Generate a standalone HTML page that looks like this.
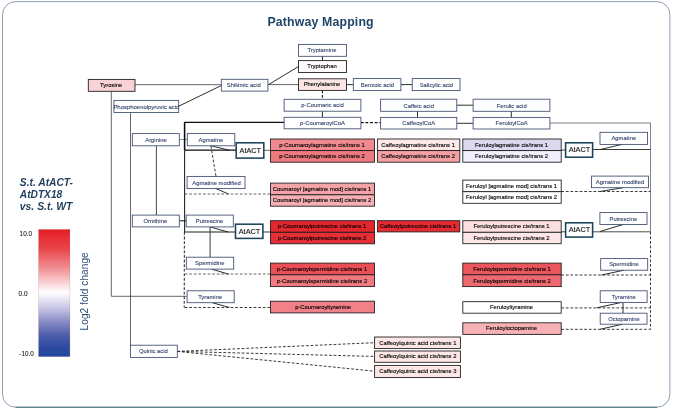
<!DOCTYPE html>
<html lang="en"><head><meta charset="utf-8"><title>Pathway Mapping</title>
<style>
html,body{margin:0;padding:0;background:#fff;}
body{width:673px;height:408px;overflow:hidden;}
svg{display:block;}
text{font-family:"Liberation Sans",sans-serif;}
</style></head><body>
<svg width="673" height="408" viewBox="0 0 673 408">
<defs>
<linearGradient id="lg" x1="0" y1="0" x2="0" y2="1">
<stop offset="0" stop-color="#e41e26"/>
<stop offset="0.15" stop-color="#e9444a"/>
<stop offset="0.3" stop-color="#f08c90"/>
<stop offset="0.42" stop-color="#f9d2d4"/>
<stop offset="0.495" stop-color="#ffffff"/>
<stop offset="0.57" stop-color="#dedcef"/>
<stop offset="0.65" stop-color="#b6b4db"/>
<stop offset="0.72" stop-color="#8c8ec7"/>
<stop offset="0.83" stop-color="#4e5eaa"/>
<stop offset="0.92" stop-color="#2f4ca1"/>
<stop offset="1" stop-color="#2446a0"/>
</linearGradient>
<filter id="bl" x="0" y="0" width="673" height="408" filterUnits="userSpaceOnUse"><feGaussianBlur stdDeviation="0.28"/></filter>
</defs>
<g filter="url(#bl)">
<rect x="0" y="0" width="673" height="408" fill="#ffffff"/>
<rect x="2.5" y="1.6" width="667.4" height="405.6" rx="13" ry="13" fill="#ffffff" stroke="#8393a6" stroke-width="0.9"/>
<line x1="15.5" y1="407.5" x2="657" y2="407.5" stroke="#5a8791" stroke-width="1.3"/>
<path d="M670.7 14 V394" stroke="#dbe7f0" stroke-width="0.9" fill="none"/>
<text x="267.4" y="26.1" font-size="12.3" font-weight="bold" fill="#1f4468" textLength="106.2" lengthAdjust="spacing">Pathway Mapping</text>
<g font-size="10.5" font-weight="bold" font-style="italic" fill="#1f3d5c">
<text x="19.8" y="186" textLength="53.2" lengthAdjust="spacingAndGlyphs">S.t. AtACT-</text>
<text x="19.8" y="198.3" textLength="42.4" lengthAdjust="spacingAndGlyphs">AtDTX18</text>
<text x="19.8" y="210.2" textLength="52.6" lengthAdjust="spacingAndGlyphs">vs. S.t. WT</text>
</g>
<rect x="38.6" y="229.5" width="31.3" height="127.1" fill="url(#lg)" stroke="#5a1020" stroke-opacity="0.25" stroke-width="0.5"/>
<g font-size="6.4" fill="#1a1a1a" stroke="#1a1a1a" stroke-width="0.1">
<text x="19.6" y="235.9">10.0</text>
<text x="18.6" y="295.8">0.0</text>
<text x="19.3" y="355.8">-10.0</text>
</g>
<text transform="translate(88.4,330.4) rotate(-90)" font-size="10" fill="#2c4e78" textLength="78" lengthAdjust="spacing">Log2 fold change</text>

<g fill="none" stroke-linecap="butt">
<line x1="135" y1="84.7" x2="221.3" y2="84.7" stroke="#4a4a4a" stroke-width="0.84"/>
<line x1="178.5" y1="106.3" x2="221.2" y2="85.6" stroke="#262626" stroke-width="0.96"/>
<line x1="267.9" y1="85" x2="298.5" y2="66.5" stroke="#262626" stroke-width="0.96"/>
<line x1="267.9" y1="84.6" x2="298.5" y2="84.6" stroke="#4a4a4a" stroke-width="0.84"/>
<line x1="322.5" y1="56.3" x2="322.5" y2="60.6" stroke="#262626" stroke-width="0.96"/>
<line x1="346.5" y1="84.6" x2="353.1" y2="84.6" stroke="#262626" stroke-width="0.96"/>
<line x1="400.9" y1="84.6" x2="412.2" y2="84.6" stroke="#262626" stroke-width="0.96"/>
<line x1="322.4" y1="90.4" x2="322.4" y2="99.3" stroke="#111" stroke-width="1.08" stroke-dasharray="2.8,1.8"/>
<line x1="322.4" y1="111.2" x2="322.4" y2="117.3" stroke="#262626" stroke-width="0.96"/>
<line x1="360.9" y1="122.6" x2="380.6" y2="122.6" stroke="#111" stroke-width="1.08" stroke-dasharray="2.8,1.8"/>
<line x1="417.5" y1="111.3" x2="417.5" y2="117.4" stroke="#262626" stroke-width="0.96"/>
<line x1="456.7" y1="105.2" x2="473.1" y2="105.2" stroke="#262626" stroke-width="0.96"/>
<line x1="456.7" y1="123.3" x2="473.1" y2="123.3" stroke="#262626" stroke-width="0.96"/>
<line x1="511.3" y1="111.3" x2="511.3" y2="117.4" stroke="#262626" stroke-width="0.96"/>
<line x1="549.9" y1="123" x2="650.5" y2="123" stroke="#6a6a6a" stroke-width="0.84"/>
<line x1="650.5" y1="123" x2="650.5" y2="231.8" stroke="#6a6a6a" stroke-width="0.84"/>
<line x1="650.5" y1="231.8" x2="650.5" y2="329.3" stroke="#262626" stroke-width="0.9" stroke-dasharray="2.8,1.8"/>
<line x1="111.3" y1="91.3" x2="111.3" y2="296.3" stroke="#4a4a4a" stroke-width="0.84"/>
<line x1="111.3" y1="296.3" x2="187.1" y2="296.3" stroke="#4a4a4a" stroke-width="0.84"/>
<line x1="130.5" y1="112.5" x2="130.5" y2="345.2" stroke="#4a4a4a" stroke-width="0.84"/>
<line x1="156.4" y1="145.8" x2="156.4" y2="215.1" stroke="#333" stroke-width="0.9"/>
<line x1="179.3" y1="139.5" x2="187.3" y2="139.5" stroke="#777" stroke-width="0.84"/>
<line x1="179.3" y1="220.8" x2="186.2" y2="220.8" stroke="#222" stroke-width="1.08"/>
<line x1="184.6" y1="122.4" x2="284.1" y2="122.4" stroke="#111" stroke-width="1.32"/>
<line x1="184.6" y1="121.9" x2="184.6" y2="150.2" stroke="#111" stroke-width="1.56"/>
<line x1="184.6" y1="150.2" x2="236.2" y2="150.2" stroke="#111" stroke-width="1.32"/>
<line x1="184.6" y1="150.2" x2="184.6" y2="232" stroke="#222" stroke-width="1.08"/>
<line x1="184.6" y1="232" x2="235.5" y2="232" stroke="#222" stroke-width="1.08"/>
<line x1="184.4" y1="232" x2="184.2" y2="307.5" stroke="#222" stroke-width="1.02" stroke-dasharray="2.8,1.8"/>
<line x1="263.8" y1="150.3" x2="270.5" y2="150.3" stroke="#4a4a4a" stroke-width="0.84"/>
<line x1="262.9" y1="232" x2="270.5" y2="232" stroke="#333" stroke-width="0.96"/>
<line x1="210.9" y1="145.8" x2="229.4" y2="150.2" stroke="#222" stroke-width="0.96"/>
<line x1="210.9" y1="146" x2="216" y2="176.4" stroke="#262626" stroke-width="0.9" stroke-dasharray="2.8,1.8"/>
<line x1="216" y1="188.6" x2="228.7" y2="194.1" stroke="#222" stroke-width="0.96"/>
<line x1="184.6" y1="194.0" x2="270.5" y2="194.0" stroke="#4a4a4a" stroke-width="0.84" stroke-dasharray="2.8,1.8"/>
<line x1="210.1" y1="226.9" x2="228" y2="232" stroke="#222" stroke-width="0.96"/>
<line x1="210.1" y1="226.9" x2="210.1" y2="257.2" stroke="#333" stroke-width="0.96"/>
<line x1="211.6" y1="269.1" x2="228.7" y2="274.2" stroke="#222" stroke-width="0.96"/>
<line x1="184.6" y1="274.0" x2="270.5" y2="274.0" stroke="#4a4a4a" stroke-width="0.84" stroke-dasharray="2.8,1.8"/>
<line x1="212.3" y1="302.7" x2="229.4" y2="307.5" stroke="#222" stroke-width="0.96"/>
<line x1="184.6" y1="307.5" x2="270.5" y2="307.5" stroke="#262626" stroke-width="0.9" stroke-dasharray="2.8,1.8"/>
<line x1="177.3" y1="351.4" x2="374.6" y2="342.7" stroke="#262626" stroke-width="0.9" stroke-dasharray="2.8,1.8"/>
<line x1="177.3" y1="351.4" x2="374.6" y2="356.4" stroke="#262626" stroke-width="0.9" stroke-dasharray="2.8,1.8"/>
<line x1="177.3" y1="351.4" x2="374.6" y2="371.2" stroke="#262626" stroke-width="0.9" stroke-dasharray="2.8,1.8"/>
<line x1="561.2" y1="150" x2="565.6" y2="150" stroke="#333" stroke-width="0.96"/>
<line x1="592.6" y1="149.5" x2="650.5" y2="149.5" stroke="#333" stroke-width="0.96"/>
<line x1="600" y1="149.6" x2="622" y2="144.4" stroke="#222" stroke-width="0.96"/>
<line x1="561.2" y1="191.5" x2="650.5" y2="191.5" stroke="#262626" stroke-width="0.9" stroke-dasharray="2.8,1.8"/>
<line x1="600" y1="191.5" x2="623" y2="187.7" stroke="#222" stroke-width="0.96"/>
<line x1="561.2" y1="231.8" x2="565.6" y2="231.8" stroke="#333" stroke-width="0.96"/>
<line x1="592.6" y1="231.8" x2="650.5" y2="231.8" stroke="#444" stroke-width="0.96"/>
<line x1="600" y1="231.5" x2="623" y2="224.5" stroke="#222" stroke-width="0.96"/>
<line x1="561.2" y1="275" x2="650.5" y2="275" stroke="#262626" stroke-width="0.9" stroke-dasharray="2.8,1.8"/>
<line x1="601.5" y1="275" x2="624" y2="270.2" stroke="#222" stroke-width="0.96"/>
<line x1="561.2" y1="307.9" x2="650.5" y2="307.9" stroke="#262626" stroke-width="0.9" stroke-dasharray="2.8,1.8"/>
<line x1="596.7" y1="307.8" x2="621.6" y2="302.4" stroke="#222" stroke-width="0.96"/>
<line x1="623" y1="302.4" x2="623" y2="313.2" stroke="#222" stroke-width="0.96"/>
<line x1="561.2" y1="329.3" x2="650.5" y2="329.3" stroke="#262626" stroke-width="0.9" stroke-dasharray="2.8,1.8"/>
<line x1="600" y1="329.3" x2="622.5" y2="324.2" stroke="#222" stroke-width="0.96"/>
</g>
<rect x="298.5" y="44.4" width="48.0" height="11.9" fill="#ffffff" stroke="#3c4a6e" stroke-width="0.85"/>
<text x="322.0" y="52.46" font-size="5.85" fill="#384872" stroke="#384872" stroke-width="0.12" text-anchor="middle">Tryptamine</text>
<rect x="298.5" y="60.6" width="48.0" height="11.9" fill="#fffafa" stroke="#1e1e1e" stroke-width="0.88"/>
<text x="322.0" y="68.36" font-size="5.85" fill="#000000" stroke="#000000" stroke-width="0.12" text-anchor="middle">Tryptophan</text>
<rect x="298.5" y="78.8" width="48.0" height="11.6" fill="#fbe4e4" stroke="#1e1e1e" stroke-width="0.88"/>
<text x="322.0" y="86.41" font-size="5.85" fill="#000000" stroke="#000000" stroke-width="0.12" text-anchor="middle">Phenylalanine</text>
<rect x="221.3" y="79.3" width="46.6" height="11.8" fill="#ffffff" stroke="#3c4a6e" stroke-width="0.85"/>
<text x="243.8" y="87.31" font-size="5.85" fill="#384872" stroke="#384872" stroke-width="0.12" text-anchor="middle">Shikimic acid</text>
<rect x="88.3" y="79.4" width="46.7" height="11.9" fill="#f9d2d5" stroke="#1e1e1e" stroke-width="0.88"/>
<text x="111.15" y="87.16" font-size="5.85" fill="#000000" stroke="#000000" stroke-width="0.12" text-anchor="middle">Tyrosine</text>
<rect x="113.9" y="100.4" width="64.8" height="12.1" fill="#ffffff" stroke="#3c4a6e" stroke-width="0.85"/>
<text x="146.4" y="108.59" font-size="5.95" fill="#384872" stroke="#384872" stroke-width="0.12" text-anchor="middle">Phosphoenolpyruvic acid</text>
<rect x="132.3" y="133.6" width="47.0" height="12.2" fill="#ffffff" stroke="#3c4a6e" stroke-width="0.85"/>
<text x="156.0" y="141.81" font-size="5.85" fill="#384872" stroke="#384872" stroke-width="0.12" text-anchor="middle">Arginine</text>
<rect x="187.3" y="133.6" width="47.5" height="12.2" fill="#ffffff" stroke="#3c4a6e" stroke-width="0.85"/>
<text x="210.85" y="141.81" font-size="5.85" fill="#384872" stroke="#384872" stroke-width="0.12" text-anchor="middle">Agmatine</text>
<rect x="353.3" y="78.6" width="47.6" height="12.0" fill="#ffffff" stroke="#3c4a6e" stroke-width="0.85"/>
<text x="377.4" y="86.71" font-size="5.85" fill="#384872" stroke="#384872" stroke-width="0.12" text-anchor="middle">Benzoic acid</text>
<rect x="412.2" y="78.6" width="47.8" height="12.0" fill="#ffffff" stroke="#3c4a6e" stroke-width="0.85"/>
<text x="436.4" y="86.71" font-size="5.85" fill="#384872" stroke="#384872" stroke-width="0.12" text-anchor="middle">Salicylic acid</text>
<rect x="284.1" y="99.3" width="76.8" height="11.9" fill="#ffffff" stroke="#3c4a6e" stroke-width="0.85"/>
<text x="322.5" y="107.36" font-size="5.85" fill="#384872" stroke="#384872" stroke-width="0.12" text-anchor="middle">p-Coumaric acid</text>
<rect x="284.1" y="117.3" width="76.8" height="11.5" fill="#ffffff" stroke="#3c4a6e" stroke-width="0.85"/>
<text x="322.5" y="125.16" font-size="5.85" fill="#384872" stroke="#384872" stroke-width="0.12" text-anchor="middle">p-CoumaroylCoA</text>
<rect x="380.6" y="99.2" width="76.2" height="12.1" fill="#ffffff" stroke="#3c4a6e" stroke-width="0.85"/>
<text x="418.7" y="107.56" font-size="5.85" fill="#384872" stroke="#384872" stroke-width="0.12" text-anchor="middle">Caffeic acid</text>
<rect x="380.6" y="117.4" width="76.2" height="11.6" fill="#ffffff" stroke="#3c4a6e" stroke-width="0.85"/>
<text x="418.7" y="125.01" font-size="5.85" fill="#384872" stroke="#384872" stroke-width="0.12" text-anchor="middle">CaffeoylCoA</text>
<rect x="473.1" y="99.2" width="76.8" height="12.1" fill="#ffffff" stroke="#3c4a6e" stroke-width="0.85"/>
<text x="511.7" y="107.56" font-size="5.85" fill="#384872" stroke="#384872" stroke-width="0.12" text-anchor="middle">Ferulic acid</text>
<rect x="473.1" y="117.4" width="76.8" height="11.6" fill="#ffffff" stroke="#3c4a6e" stroke-width="0.85"/>
<text x="511.7" y="125.01" font-size="5.85" fill="#384872" stroke="#384872" stroke-width="0.12" text-anchor="middle">FeruloylCoA</text>
<rect x="187.1" y="176.4" width="57.9" height="12.2" fill="#ffffff" stroke="#3c4a6e" stroke-width="0.85"/>
<text x="216.45" y="184.61" font-size="5.85" fill="#384872" stroke="#384872" stroke-width="0.12" text-anchor="middle">Agmatine modified</text>
<rect x="132.3" y="215.1" width="47.0" height="11.8" fill="#ffffff" stroke="#3c4a6e" stroke-width="0.85"/>
<text x="155.3" y="223.11" font-size="5.85" fill="#384872" stroke="#384872" stroke-width="0.12" text-anchor="middle">Ornithine</text>
<rect x="186.2" y="215.1" width="47.1" height="11.8" fill="#ffffff" stroke="#3c4a6e" stroke-width="0.85"/>
<text x="209.55" y="223.11" font-size="5.85" fill="#384872" stroke="#384872" stroke-width="0.12" text-anchor="middle">Putrescine</text>
<rect x="186.3" y="257.2" width="47.4" height="11.9" fill="#ffffff" stroke="#3c4a6e" stroke-width="0.85"/>
<text x="209.8" y="265.26" font-size="5.85" fill="#384872" stroke="#384872" stroke-width="0.12" text-anchor="middle">Spermidine</text>
<rect x="187.1" y="290.8" width="47.1" height="11.9" fill="#ffffff" stroke="#3c4a6e" stroke-width="0.85"/>
<text x="210.15" y="298.86" font-size="5.85" fill="#384872" stroke="#384872" stroke-width="0.12" text-anchor="middle">Tyramine</text>
<rect x="130.4" y="345.2" width="46.9" height="12.2" fill="#ffffff" stroke="#3c4a6e" stroke-width="0.85"/>
<text x="153.35" y="353.41" font-size="5.85" fill="#384872" stroke="#384872" stroke-width="0.12" text-anchor="middle">Quinic acid</text>
<rect x="600.0" y="132.3" width="47.6" height="12.1" fill="#ffffff" stroke="#3c4a6e" stroke-width="0.85"/>
<text x="623.8" y="140.46" font-size="5.85" fill="#384872" stroke="#384872" stroke-width="0.12" text-anchor="middle">Agmatine</text>
<rect x="591.4" y="176.1" width="57.1" height="11.6" fill="#ffffff" stroke="#3c4a6e" stroke-width="0.85"/>
<text x="619.95" y="184.01" font-size="5.85" fill="#384872" stroke="#384872" stroke-width="0.12" text-anchor="middle">Agmatine modified</text>
<rect x="599.9" y="212.6" width="47.1" height="11.9" fill="#ffffff" stroke="#3c4a6e" stroke-width="0.85"/>
<text x="623.35" y="220.66" font-size="5.85" fill="#384872" stroke="#384872" stroke-width="0.12" text-anchor="middle">Putrescine</text>
<rect x="600.7" y="258.6" width="47.0" height="11.6" fill="#ffffff" stroke="#3c4a6e" stroke-width="0.85"/>
<text x="624.0" y="266.01" font-size="5.85" fill="#384872" stroke="#384872" stroke-width="0.12" text-anchor="middle">Spermidine</text>
<rect x="600.2" y="290.8" width="46.9" height="11.6" fill="#ffffff" stroke="#3c4a6e" stroke-width="0.85"/>
<text x="623.65" y="298.71" font-size="5.85" fill="#384872" stroke="#384872" stroke-width="0.12" text-anchor="middle">Tyramine</text>
<rect x="600.2" y="313.2" width="46.8" height="11.0" fill="#ffffff" stroke="#3c4a6e" stroke-width="0.85"/>
<text x="624.0" y="320.61" font-size="5.85" fill="#384872" stroke="#384872" stroke-width="0.12" text-anchor="middle">Octopamine</text>
<rect x="236.2" y="142.8" width="27.6" height="15.3" fill="#ffffff" stroke="#1b4358" stroke-width="1.55"/>
<text x="250.3" y="152.78" font-size="7.3" fill="#111" stroke="#111" stroke-width="0.12" text-anchor="middle">AtACT</text>
<rect x="235.5" y="224.2" width="27.4" height="14.2" fill="#ffffff" stroke="#1b4358" stroke-width="1.55"/>
<text x="249.5" y="233.63" font-size="7.3" fill="#111" stroke="#111" stroke-width="0.12" text-anchor="middle">AtACT</text>
<rect x="565.6" y="142.8" width="27.0" height="14.4" fill="#ffffff" stroke="#1b4358" stroke-width="1.55"/>
<text x="579.4" y="152.33" font-size="7.3" fill="#111" stroke="#111" stroke-width="0.12" text-anchor="middle">AtACT</text>
<rect x="565.6" y="222.8" width="27.0" height="14.3" fill="#ffffff" stroke="#1b4358" stroke-width="1.55"/>
<text x="579.4" y="232.28" font-size="7.3" fill="#111" stroke="#111" stroke-width="0.12" text-anchor="middle">AtACT</text>
<rect x="270.5" y="139" width="104.0" height="11.6" fill="#f08a8f" stroke="#1e1e1e" stroke-width="0.88"/>
<text x="322.0" y="146.61" font-size="5.85" fill="#000000" stroke="#000000" stroke-width="0.12" text-anchor="middle">p-Coumaroylagmatine cis/trans 1</text>
<rect x="270.5" y="150.6" width="104.0" height="11.6" fill="#ee7a80" stroke="#1e1e1e" stroke-width="0.88"/>
<text x="322.0" y="158.21" font-size="5.85" fill="#000000" stroke="#000000" stroke-width="0.12" text-anchor="middle">p-Coumaroylagmatine cis/trans 2</text>
<rect x="377.4" y="139" width="82.4" height="11.6" fill="#fde9e9" stroke="#1e1e1e" stroke-width="0.88"/>
<text x="418.1" y="146.61" font-size="5.85" fill="#000000" stroke="#000000" stroke-width="0.12" text-anchor="middle">Caffeoylagmatine cis/trans 1</text>
<rect x="377.4" y="150.6" width="82.4" height="11.6" fill="#f4a0a5" stroke="#1e1e1e" stroke-width="0.88"/>
<text x="418.1" y="158.21" font-size="5.85" fill="#000000" stroke="#000000" stroke-width="0.12" text-anchor="middle">Caffeoylagmatine cis/trans 2</text>
<rect x="462.8" y="139" width="98.4" height="11.6" fill="#dcd8f0" stroke="#1e1e1e" stroke-width="0.88"/>
<text x="511.5" y="146.61" font-size="5.85" fill="#000000" stroke="#000000" stroke-width="0.12" text-anchor="middle">Feruloylagmatine cis/trans 1</text>
<rect x="462.8" y="150.6" width="98.4" height="11.6" fill="#f1effb" stroke="#1e1e1e" stroke-width="0.88"/>
<text x="511.5" y="158.21" font-size="5.85" fill="#000000" stroke="#000000" stroke-width="0.12" text-anchor="middle">Feruloylagmatine cis/trans 2</text>
<rect x="270.5" y="183.1" width="104.0" height="11.7" fill="#f4a3a7" stroke="#1e1e1e" stroke-width="0.88"/>
<text x="322.0" y="190.76" font-size="5.85" fill="#000000" stroke="#000000" stroke-width="0.12" text-anchor="middle">Coumaroyl [agmatine mod] cis/trans 1</text>
<rect x="270.5" y="194.8" width="104.0" height="11.4" fill="#f6b0b4" stroke="#1e1e1e" stroke-width="0.88"/>
<text x="322.0" y="202.31" font-size="5.85" fill="#000000" stroke="#000000" stroke-width="0.12" text-anchor="middle">Coumaroyl [agmatine mod] cis/trans 2</text>
<rect x="462.8" y="180.1" width="98.4" height="11.6" fill="#ffffff" stroke="#1e1e1e" stroke-width="0.88"/>
<text x="511.5" y="187.71" font-size="5.85" fill="#000000" stroke="#000000" stroke-width="0.12" text-anchor="middle">Feruloyl [agmatine mod] cis/trans 1</text>
<rect x="462.8" y="191.7" width="98.4" height="11.6" fill="#ffffff" stroke="#1e1e1e" stroke-width="0.88"/>
<text x="511.5" y="199.31" font-size="5.85" fill="#000000" stroke="#000000" stroke-width="0.12" text-anchor="middle">Feruloyl [agmatine mod] cis/trans 2</text>
<rect x="270.5" y="220.7" width="104.0" height="11.6" fill="#e4272e" stroke="#1e1e1e" stroke-width="0.88"/>
<text x="322.0" y="228.31" font-size="5.85" fill="#000000" stroke="#000000" stroke-width="0.12" text-anchor="middle">p-Coumaroylputrescine cis/trans 1</text>
<rect x="270.5" y="232.3" width="104.0" height="11.5" fill="#e52d34" stroke="#1e1e1e" stroke-width="0.88"/>
<text x="322.0" y="239.86" font-size="5.85" fill="#000000" stroke="#000000" stroke-width="0.12" text-anchor="middle">p-Coumaroylputrescine cis/trans 2</text>
<rect x="377.4" y="220.7" width="82.4" height="11.2" fill="#e52b32" stroke="#1e1e1e" stroke-width="0.88"/>
<text x="418.1" y="228.11" font-size="5.85" fill="#000000" stroke="#000000" stroke-width="0.12" text-anchor="middle">Caffeoylputrescine cis/trans 1</text>
<rect x="462.8" y="220.7" width="98.4" height="11.6" fill="#fcdfe1" stroke="#1e1e1e" stroke-width="0.88"/>
<text x="511.5" y="228.31" font-size="5.85" fill="#000000" stroke="#000000" stroke-width="0.12" text-anchor="middle">Feruloylputrescine cis/trans 1</text>
<rect x="462.8" y="232.3" width="98.4" height="11.4" fill="#fde6e8" stroke="#1e1e1e" stroke-width="0.88"/>
<text x="511.5" y="239.81" font-size="5.85" fill="#000000" stroke="#000000" stroke-width="0.12" text-anchor="middle">Feruloylputrescine cis/trans 2</text>
<rect x="270.5" y="263.1" width="104.0" height="11.7" fill="#ea5056" stroke="#1e1e1e" stroke-width="0.88"/>
<text x="322.0" y="270.76" font-size="5.85" fill="#000000" stroke="#000000" stroke-width="0.12" text-anchor="middle">p-Coumaroylspermidine cis/trans 1</text>
<rect x="270.5" y="274.8" width="104.0" height="11.8" fill="#f07a80" stroke="#1e1e1e" stroke-width="0.88"/>
<text x="322.0" y="282.51" font-size="5.85" fill="#000000" stroke="#000000" stroke-width="0.12" text-anchor="middle">p-Coumaroylspermidine cis/trans 2</text>
<rect x="462.8" y="263.1" width="98.4" height="11.7" fill="#ea565c" stroke="#1e1e1e" stroke-width="0.88"/>
<text x="512.0" y="270.76" font-size="5.85" fill="#000000" stroke="#000000" stroke-width="0.12" text-anchor="middle">Feruloylspermidine cis/trans 1</text>
<rect x="462.8" y="274.8" width="98.4" height="11.8" fill="#ee6a70" stroke="#1e1e1e" stroke-width="0.88"/>
<text x="512.0" y="282.51" font-size="5.85" fill="#000000" stroke="#000000" stroke-width="0.12" text-anchor="middle">Feruloylspermidine cis/trans 2</text>
<rect x="270.5" y="301.2" width="104.0" height="11.7" fill="#f08188" stroke="#1e1e1e" stroke-width="0.88"/>
<text x="323.1" y="308.86" font-size="5.85" fill="#000000" stroke="#000000" stroke-width="0.12" text-anchor="middle">p-Coumaroyltyramine</text>
<rect x="462.8" y="301.7" width="98.4" height="11.5" fill="#ffffff" stroke="#1e1e1e" stroke-width="0.88"/>
<text x="511.5" y="309.26" font-size="5.85" fill="#000000" stroke="#000000" stroke-width="0.12" text-anchor="middle">Feruloyltyramine</text>
<rect x="462.8" y="322.8" width="98.4" height="11.6" fill="#f6b1b5" stroke="#1e1e1e" stroke-width="0.88"/>
<text x="511.5" y="330.41" font-size="5.85" fill="#000000" stroke="#000000" stroke-width="0.12" text-anchor="middle">Feruloyloctopamine</text>
<rect x="374.6" y="337" width="85.8" height="11.6" fill="#fce6e6" stroke="#1e1e1e" stroke-width="0.88"/>
<text x="417.8" y="344.61" font-size="5.85" fill="#000000" stroke="#000000" stroke-width="0.12" text-anchor="middle">Caffeoylquinic acid cis/trans 1</text>
<rect x="374.6" y="351" width="85.8" height="11.3" fill="#fce6e6" stroke="#1e1e1e" stroke-width="0.88"/>
<text x="417.8" y="358.46" font-size="5.85" fill="#000000" stroke="#000000" stroke-width="0.12" text-anchor="middle">Caffeoylquinic acid cis/trans 2</text>
<rect x="374.6" y="365.4" width="85.8" height="12.1" fill="#fce6e6" stroke="#1e1e1e" stroke-width="0.88"/>
<text x="417.8" y="373.26" font-size="5.85" fill="#000000" stroke="#000000" stroke-width="0.12" text-anchor="middle">Caffeoylquinic acid cis/trans 3</text>
</g>
</svg>
</body></html>
